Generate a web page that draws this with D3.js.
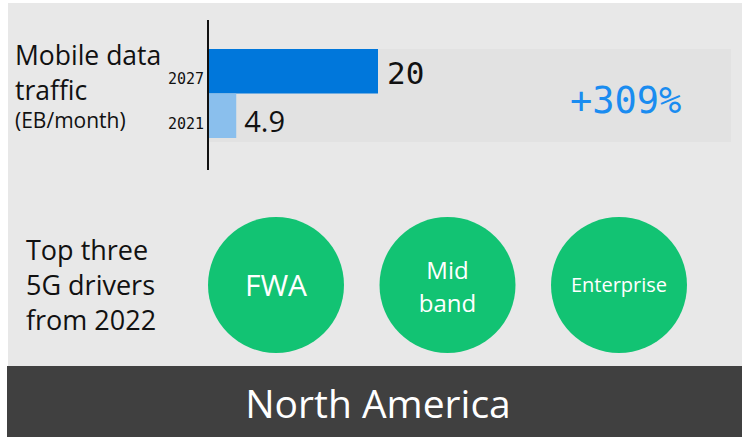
<!DOCTYPE html>
<html>
<head>
<meta charset="utf-8">
<script src="https://cdn.jsdelivr.net/npm/d3@7/dist/d3.min.js"></script>
<style>
  body { margin: 0; background: #fff; }
  svg { display: block; }
  text { font-variant-ligatures: none; }
</style>
</head>
<body>
<div id="viz"></div>
<script>
// data
const years = ["2027", "2021"];
const traffic = [20, 4.9];
const growth = "+309%";
const drivers = ["FWA", "Mid band", "Enterprise"];
const region = "North America";

const W = 743, H = 437;
const sans = "'Open Sans', Lato, sans-serif";
const mono = "'DejaVu Sans Mono', monospace";

const svg = d3.select("#viz").append("svg")
  .attr("width", W)
  .attr("height", H);

// panels
svg.append("rect")
  .attr("x", 8).attr("y", 3)
  .attr("width", 734).attr("height", 364)
  .attr("fill", "#e8e8e8");

svg.append("rect")
  .attr("x", 7).attr("y", 366)
  .attr("width", 735).attr("height", 71)
  .attr("fill", "#404040");

// bar chart
const x = d3.scaleLinear().domain([2, 20]).range([209, 378]);
const y = d3.scaleBand().domain(years).range([49, 138]);

svg.append("rect")
  .attr("x", 209).attr("y", y.range()[0])
  .attr("width", 522).attr("height", y.range()[1] - y.range()[0] + 4)
  .attr("fill", "#e2e2e2");

const barColor = { "2027": "#0077db", "2021": "#8abfed" };

svg.selectAll("rect.bar")
  .data(years)
  .join("rect")
  .attr("class", "bar")
  .attr("x", x.range()[0])
  .attr("y", d => y(d))
  .attr("width", (d, i) => x(traffic[i]) - x.range()[0])
  .attr("height", y.bandwidth())
  .attr("fill", d => barColor[d]);

svg.append("line")
  .attr("x1", 208).attr("x2", 208)
  .attr("y1", 20).attr("y2", 170)
  .attr("stroke", "#111")
  .attr("stroke-width", 2);

svg.selectAll("text.year")
  .data(years)
  .join("text")
  .attr("class", "year")
  .attr("x", 204)
  .attr("y", d => y(d) + y.bandwidth() * 0.5 + 13)
  .attr("text-anchor", "end")
  .style("font-family", mono)
  .style("font-size", "15px")
  .attr("fill", "#111")
  .text(d => d);

svg.selectAll("text.val")
  .data(years)
  .join("text")
  .attr("class", "val")
  .attr("x", (d, i) => x(traffic[i]) + (i === 0 ? 9 : 8))
  .attr("y", (d, i) => y(d) + (i === 0 ? 35 : 38))
  .style("font-family", (d, i) => i === 0 ? mono : sans)
  .style("font-size", (d, i) => i === 0 ? "31px" : "29px")
  .attr("fill", "#111")
  .text((d, i) => traffic[i]);

svg.append("text")
  .attr("x", 570).attr("y", 113)
  .style("font-family", mono)
  .style("font-size", "37px")
  .attr("fill", "#1a8cf0")
  .text(growth);

// left labels
const topLabel = [
  { t: "Mobile data", y: 65, s: 26.5 },
  { t: "traffic", y: 100, s: 26.5 },
  { t: "(EB/month)", y: 128, s: 21 }
];
svg.selectAll("text.lab")
  .data(topLabel)
  .join("text")
  .attr("class", "lab")
  .attr("x", 15)
  .attr("y", d => d.y)
  .style("font-family", sans)
  .style("font-size", d => d.s + "px")
  .attr("fill", "#111")
  .text(d => d.t);

const botLabel = ["Top three", "5G drivers", "from 2022"];
svg.selectAll("text.lab2")
  .data(botLabel)
  .join("text")
  .attr("class", "lab2")
  .attr("x", 26)
  .attr("y", (d, i) => 260 + i * 35)
  .style("font-family", sans)
  .style("font-size", "27px")
  .attr("fill", "#111")
  .text(d => d);

// driver circles
const cx = d3.scalePoint().domain(drivers).range([276, 619]);
const cy = 285;
const g = svg.selectAll("g.driver")
  .data(drivers)
  .join("g")
  .attr("class", "driver")
  .attr("transform", d => `translate(${cx(d)},${cy})`);

g.append("circle")
  .attr("r", 68)
  .attr("fill", "#12c373");

const fontFor = d => d.length > 8 ? 20 : (d.includes(" ") ? 24 : 30);

g.each(function (d) {
  const words = d.length > 8 ? [d] : d.split(" ");
  const fs = fontFor(d);
  const lh = 33;
  d3.select(this).selectAll("text")
    .data(words)
    .join("text")
    .attr("text-anchor", "middle")
    .attr("y", (w, i) => (i - (words.length - 1) / 2) * lh + (words.length > 1 ? 10 : fs * 0.37))
    .style("font-family", sans)
    .style("font-size", fs + "px")
    .attr("fill", "#fff")
    .text(w => w);
});

// region title
svg.append("text")
  .attr("x", 378).attr("y", 418)
  .attr("text-anchor", "middle")
  .style("font-family", sans)
  .style("font-size", "39px")
  .attr("fill", "#fff")
  .text(region);
</script>
</body>
</html>
